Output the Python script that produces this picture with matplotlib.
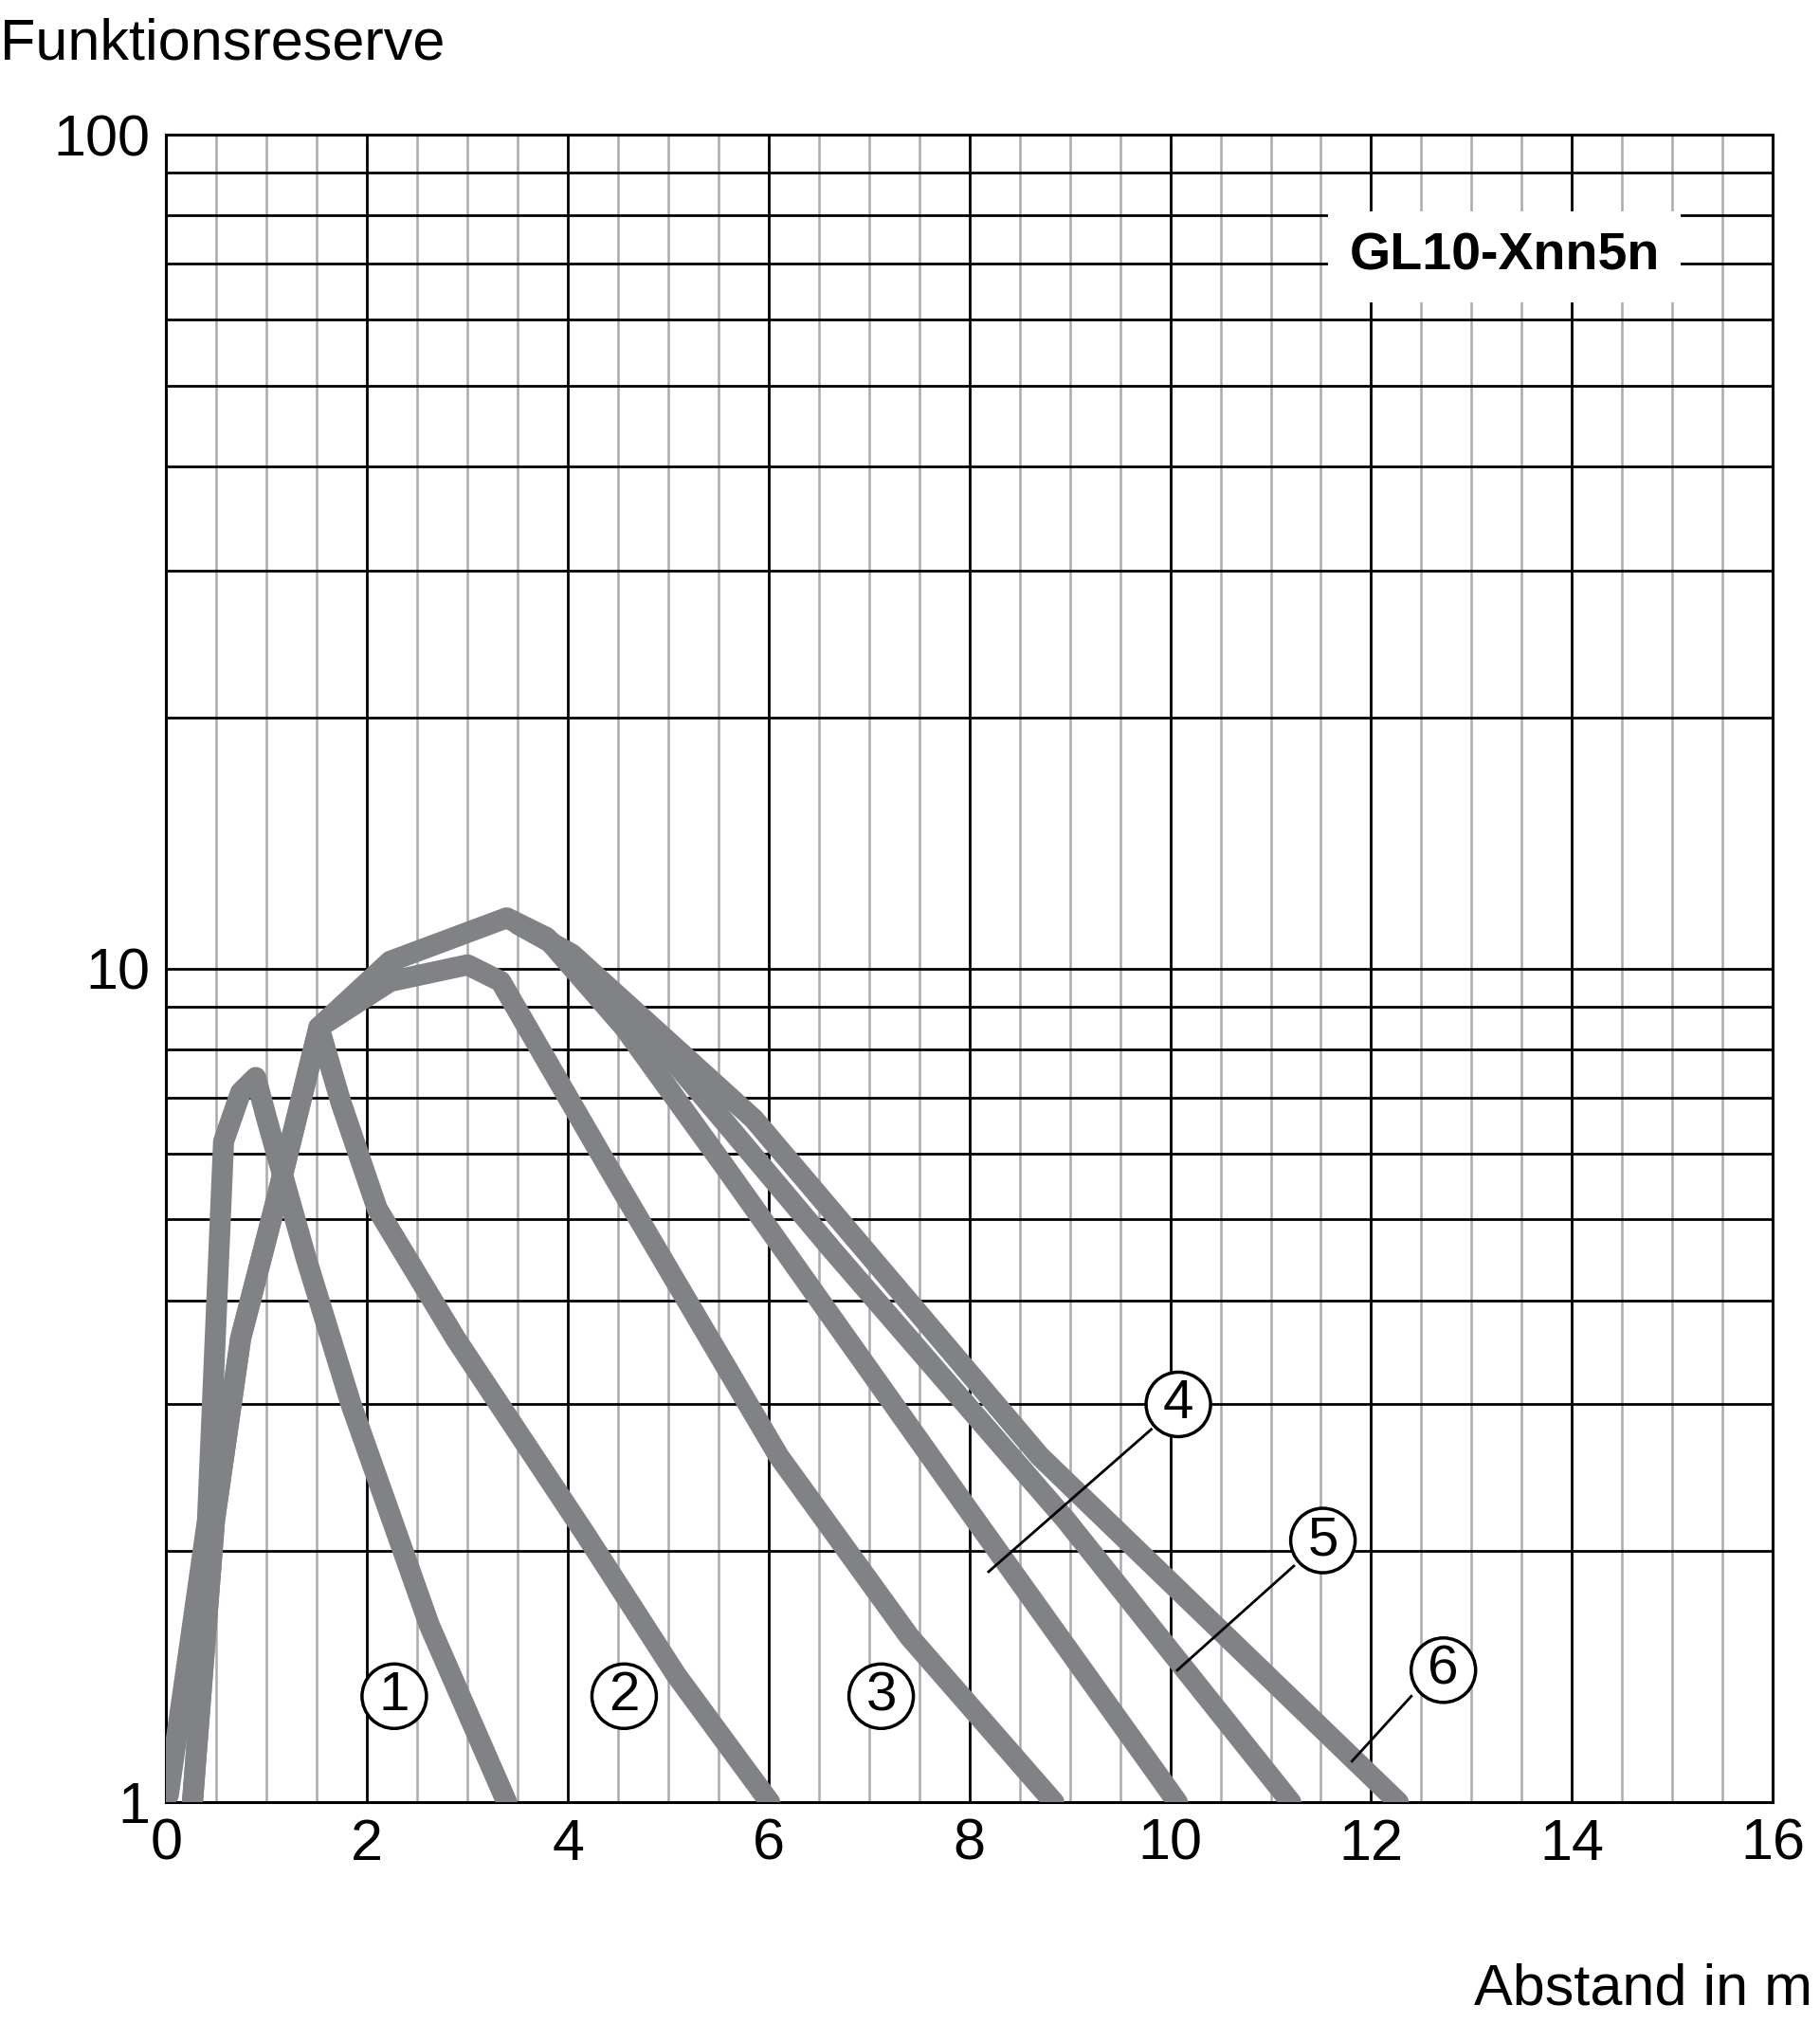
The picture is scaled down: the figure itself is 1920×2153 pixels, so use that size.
import matplotlib
matplotlib.use("Agg")
import matplotlib.pyplot as plt
import numpy as np

c1_x = [0.02, 0.41, 0.57, 0.74, 0.89, 1.0, 1.39, 1.84, 2.62, 3.39]
c1_y = [1.02, 2.18, 6.2, 7.1, 7.4, 6.6, 4.5, 3.0, 1.63, 1.0]
c2_x = [0.26, 0.48, 0.74, 1.1, 1.52, 1.74, 2.1, 2.88, 4.17, 5.08, 6.01]
c2_y = [1.0, 2.18, 3.6, 5.3, 8.5, 6.9, 5.15, 3.6, 2.1, 1.42, 1.0]
c3_x = [0.26, 0.48, 0.74, 1.1, 1.52, 2.23, 3.0, 3.33, 4.43, 6.1, 7.4, 8.84]
c3_y = [1.0, 2.18, 3.6, 5.3, 8.5, 9.65, 10.1, 9.65, 5.7, 2.6, 1.58, 1.0]
c4_x = [1.52, 2.23, 3.39, 3.78, 4.56, 5.6, 8.06, 10.07]
c4_y = [8.5, 10.2, 11.5, 10.9, 8.5, 5.7, 2.18, 1.0]
c5_x = [3.78, 4.82, 6.63, 8.96, 11.2]
c5_y = [10.9, 8.36, 4.6, 2.18, 1.0]
c6_x = [3.5, 4.04, 5.85, 8.7, 12.27]
c6_y = [11.3, 10.4, 6.6, 2.6, 1.0]
curves = [(c1_x, c1_y), (c2_x, c2_y), (c3_x, c3_y), (c4_x, c4_y), (c5_x, c5_y), (c6_x, c6_y)]

labels = ["1", "2", "3", "4", "5", "6"]
label_x = [2.27, 4.56, 7.12, 10.08, 11.52, 12.72]
label_y = [1.34, 1.34, 1.34, 3.0, 2.06, 1.44]
leaders = {3: ((9.81, 8.19), (2.8, 1.89)), 4: ((11.23, 10.07), (1.92, 1.44)), 5: ((12.4, 11.81), (1.34, 1.12))}
x_ticks = [0, 2, 4, 6, 8, 10, 12, 14, 16]

plt.rcParams['font.family'] = ['Liberation Sans', 'DejaVu Sans']
fig = plt.figure(figsize=(19.2, 21.53), dpi=100)
ax = fig.add_axes([0.0914, 0.117, 0.8826, 0.817])
ax.set_yscale('log')
ax.set_xlim(0, 16)
ax.set_ylim(1, 100)

for xv in np.arange(0.5, 16, 0.5):
    if xv % 2 != 0:
        ax.axvline(xv, color='#aaaaaa', lw=1.8, zorder=1)
for xv in range(2, 16, 2):
    ax.axvline(xv, color='black', lw=2, zorder=1)
for d in [1, 10]:
    for k in range(2, 10):
        ax.axhline(d * k, color='black', lw=2, zorder=1)
ax.axhline(10, color='black', lw=2, zorder=1)
for s in ax.spines.values():
    s.set_linewidth(2.2)

for xs, ys in curves:
    ax.plot(xs, ys, color='#808285', lw=16, solid_capstyle='round', solid_joinstyle='round', zorder=3)

for i, (t, lx, ly) in enumerate(zip(labels, label_x, label_y)):
    ax.text(lx, ly, t, fontsize=42, ha='center', va='center', zorder=5,
            bbox=dict(boxstyle='circle,pad=0.12', fc='white', ec='black', lw=2.5))
for i, (lxs, lys) in leaders.items():
    ax.plot(lxs, lys, color='black', lw=2, zorder=4)

ax.text(13.33, 71.4, "GL10-Xnn5n", fontsize=40, fontweight='bold', ha='center', va='center', zorder=5,
        bbox=dict(boxstyle='square,pad=0.4', fc='white', ec='none'))

ax.set_xticks(x_ticks)
ax.set_xticklabels([str(v) for v in x_ticks])
ax.set_yticks([1, 10, 100])
ax.set_yticklabels(["1", "10", "100"])
ax.minorticks_off()
ax.tick_params(length=0, labelsize=44, pad=12)
ax.yaxis.set_minor_locator(matplotlib.ticker.NullLocator())

fig.text(0.0, 0.978, "Funktionsreserve", fontsize=44, ha='left', va='center')
fig.text(0.996, 0.025, "Abstand in m", fontsize=44, ha='right', va='center')
fig.savefig("out.png", dpi=100, facecolor='white')
